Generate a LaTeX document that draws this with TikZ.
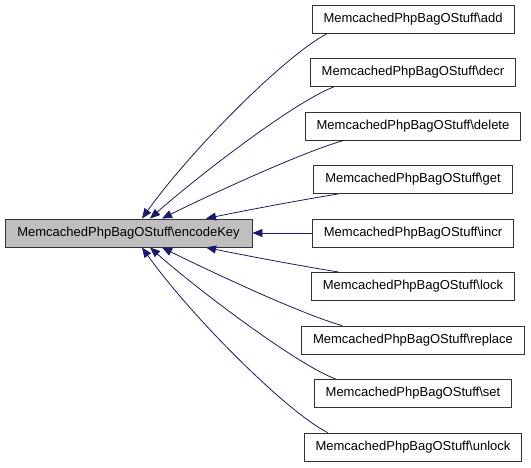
\documentclass[tikz,border=0pt]{standalone}
\usepackage{fontspec}
\setmainfont{Liberation Sans}
\usetikzlibrary{arrows.meta}
\definecolor{edgeblue}{RGB}{25,25,112}
\definecolor{keygray}{RGB}{191,191,191}
\begin{document}
\begin{tikzpicture}[
  x=1pt,y=-1pt,
  fn/.style={draw=black!80, fill=white, line width=0.9pt,
             minimum height=28pt, inner xsep=11.5pt, inner ysep=0pt,
             font=\fontsize{13}{15}\selectfont},
  focus/.style={fn, fill=keygray, minimum width=247pt},
  call/.style={-{Triangle[length=10pt,width=8pt]}, line width=0.8pt,
               draw=edgeblue}
]
  \useasboundingbox (0,0) rectangle (531,467);

  \node[focus] (key) at (128.5,233) {MemcachedPhpBagOStuff\textbackslash encodeKey};

  \node[fn] (add)     at (413,19)    {MemcachedPhpBagOStuff\textbackslash add};
  \node[fn] (decr)    at (413,72.5)  {MemcachedPhpBagOStuff\textbackslash decr};
  \node[fn] (delete)  at (413,126)   {MemcachedPhpBagOStuff\textbackslash delete};
  \node[fn] (get)     at (413,179.5) {MemcachedPhpBagOStuff\textbackslash get};
  \node[fn] (incr)    at (413,233)   {MemcachedPhpBagOStuff\textbackslash incr};
  \node[fn] (lock)    at (413,286.5) {MemcachedPhpBagOStuff\textbackslash lock};
  \node[fn] (replace) at (413,340)   {MemcachedPhpBagOStuff\textbackslash replace};
  \node[fn] (set)     at (413,393.5) {MemcachedPhpBagOStuff\textbackslash set};
  \node[fn] (unlock)  at (413,447)   {MemcachedPhpBagOStuff\textbackslash unlock};

  \draw[call] ([xshift=16pt]add.south west)
    .. controls +(-40,20) and +(50,-70) .. ([xshift=13.5pt]key.north);
  \draw[call] ([xshift=24pt]decr.south west)
    .. controls +(-40,15) and +(45,-40) .. ([xshift=21.5pt]key.north);
  \draw[call] ([xshift=39pt]delete.south west)
    .. controls +(-43,12) and +(38,-19) .. ([xshift=33.5pt]key.north);
  \draw[call] ([xshift=25pt]get.south west)
    .. controls +(-38,6) and +(34,-7) .. ([xshift=77.5pt]key.north);
  \draw[call] (incr) -- (key);
  \draw[call] ([xshift=28pt]lock.north west)
    .. controls +(-38,-6) and +(34,7) .. ([xshift=77.5pt]key.south);
  \draw[call] ([xshift=41pt]replace.north west)
    .. controls +(-43,-12) and +(38,19) .. ([xshift=33.5pt]key.south);
  \draw[call] ([xshift=22pt]set.north west)
    .. controls +(-40,-15) and +(45,40) .. ([xshift=21.5pt]key.south);
  \draw[call] ([xshift=24pt]unlock.north west)
    .. controls +(-40,-20) and +(50,70) .. ([xshift=13.5pt]key.south);
\end{tikzpicture}
\end{document}
